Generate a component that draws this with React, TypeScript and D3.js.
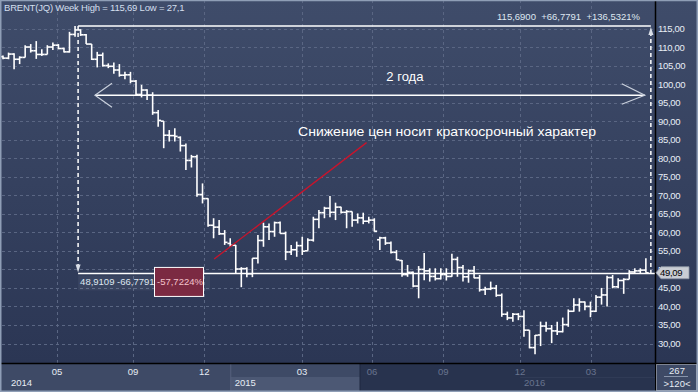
import React from "react";
import * as d3 from "d3";

const W = 698;
const H = 392;

// Weekly OHLC, BRENT(JQ)
const opens = [107.4,107.0,108.1,106.7,107.2,110.0,109.0,108.0,108.0,110.0,110.5,109.6,108.7,113.4,114.6,113.3,110.8,106.7,107.8,105.0,104.8,103.8,102.4,102.5,100.8,97.2,98.4,97.0,92.3,90.0,86.2,86.1,85.6,83.4,79.4,80.4,70.2,69.1,61.9,61.4,59.6,57.0,56.5,50.1,50.2,48.8,53.0,57.8,61.5,60.2,62.6,59.7,54.7,55.3,56.4,55.0,57.9,63.5,65.3,66.5,65.4,66.8,65.4,65.6,63.3,63.9,63.0,63.3,58.0,58.5,57.1,54.6,52.4,48.6,49.2,45.5,50.0,49.6,48.1,47.5,48.6,48.1,52.7,50.5,48.0,49.6,47.7,44.5,44.7,44.9,43.0,37.9,36.9,37.9,37.3,33.6,28.9,32.3,34.7,34.0,33.4,33.2,35.1,38.7,40.4,41.2,40.0,38.7,42.5,43.1,47.8,45.3,47.0,47.3,49.3,49.6,49.8];
const highs = [107.7,108.5,108.3,107.5,110.5,110.8,111.6,109.4,110.5,111.2,110.8,109.8,114.1,115.69,114.8,113.5,110.8,108.7,108.5,105.6,105.8,105.4,103.3,103.3,101.1,99.8,98.6,97.8,93.0,90.0,87.6,88.1,85.9,84.0,80.9,80.9,73.2,69.2,63.8,63.3,60.6,58.4,56.6,50.6,50.6,53.0,59.3,62.6,62.4,62.9,62.9,60.2,56.6,57.5,58.8,58.4,64.2,66.0,66.9,69.8,68.0,66.9,66.0,65.6,65.1,65.3,64.2,63.8,58.8,58.8,57.5,55.2,52.5,51.2,49.4,50.9,54.4,50.3,50.3,50.3,50.3,54.2,53.4,51.2,50.0,50.9,48.5,45.3,46.7,45.8,43.5,38.6,38.2,38.2,39.0,33.6,32.3,35.9,35.9,35.0,35.9,37.0,39.2,42.2,42.2,41.3,41.3,43.1,45.0,48.3,48.5,47.6,47.6,49.8,50.3,50.3,53.0];
const lows = [106.7,106.7,104.0,105.4,107.2,108.5,106.8,107.6,108.0,109.2,109.4,108.5,108.5,112.8,113.0,110.8,106.5,104.5,104.7,104.3,102.8,102.0,101.3,100.2,96.8,96.4,95.7,91.7,88.5,82.7,84.5,84.5,81.8,76.8,77.5,69.6,67.8,61.5,58.4,59.3,56.6,56.1,49.0,45.2,47.9,47.9,51.6,56.1,57.9,58.8,59.7,52.5,53.9,53.4,53.9,55.0,57.5,61.1,63.8,64.1,63.3,65.1,61.1,61.5,62.4,62.2,62.4,60.2,55.2,56.6,54.3,52.5,48.0,48.0,45.2,42.2,47.1,46.7,47.0,47.3,47.0,48.0,48.0,46.7,46.4,47.6,44.0,43.1,44.4,42.6,37.2,36.3,35.9,36.3,31.8,28.7,27.1,29.3,33.2,30.1,32.3,33.0,34.5,38.6,38.6,39.0,37.1,38.5,40.5,40.0,44.9,44.9,43.4,47.3,48.8,48.9,49.1];
const closes = [107.0,108.1,106.7,107.2,110.0,109.0,108.0,108.0,110.0,110.5,109.6,108.7,113.4,114.6,113.3,110.8,106.7,107.8,105.0,104.8,103.8,102.4,102.5,100.8,97.2,98.4,97.0,92.3,90.2,86.2,86.1,85.9,83.4,79.4,80.4,70.2,69.1,61.9,61.4,59.6,57.3,56.5,50.1,50.2,48.8,53.0,57.8,61.5,60.2,62.6,59.7,54.7,55.3,56.4,54.9,57.9,63.5,65.3,66.5,65.4,66.8,65.4,65.6,63.3,63.9,63.0,63.3,60.3,58.5,57.1,54.6,52.6,48.6,49.2,45.5,50.0,49.6,48.1,47.5,48.6,48.1,52.7,50.5,48.0,49.6,47.7,44.5,44.7,44.9,43.0,37.9,36.9,37.9,37.3,33.6,28.9,32.2,34.7,34.0,33.4,33.2,35.1,38.7,40.4,41.2,40.0,38.7,42.5,43.1,47.8,45.3,47.0,47.3,49.3,49.6,49.8,49.09];

const priceTicks = [30,35,40,45,50,55,60,65,70,75,80,85,90,95,100,105,110,115];
const monthLabels = ["05","09","12","03","06","09","12","03"];
const monthIdx = [9.75,23.45,36.3,53.95,66.6,79.45,93.3,106.1];
const yearLabels = ["2015","2016"];
const yearIdx = [41.1,93.3];

// measurement annotation
const measureStartIdx = 13.55;
const measureEndIdx = 116.9;
const measureHigh = 115.69;
const measureLow = 48.9109;
const measureTopText = "115,6900  +66,7791  +136,5321%";
const measureLowText = "48,9109 -66,7791";
const measurePct = "-57,7224%";
const lastPrice = 49.09;

// arrow "2 года"
const spanArrow = { from: 16.6, to: 115.8, price: 97.0, label: "2 года" };
// red trend line
const trend = { i0: 38.1, p0: 52.8, i1: 65.6, p1: 84.2, label: "Снижение цен носит краткосрочный характер" };

const title = "BRENT(JQ) Week High = 115,69 Low = 27,1";

const PLOT_R = 655;
const PLOT_B = 363;

const fmt = (v: number) => v.toFixed(2).replace(".", ",");

export default function App() {
  const n = closes.length;
  const x = d3.scaleLinear().domain([0, n - 1]).range([3, 3 + (n - 1) * 5.542]);
  const y = d3.scaleLinear().domain([30, 115]).range([343.5, 28.5]);
  const font = "'Liberation Sans', Arial, sans-serif";

  const xs = x(measureStartIdx);
  const xe = x(measureEndIdx);
  const yHi = y(measureHigh);
  const yLo = y(measureLow);

  const ax0 = x(spanArrow.from);
  const ax1 = x(spanArrow.to);
  const ay = y(spanArrow.price);

  return (
    <svg width={W} height={H} style={{ position: "absolute", left: 0, top: 0, display: "block" }} fontFamily={font}>
      <defs>
        <linearGradient id="bg" x1="0" y1="0" x2="0" y2="1">
          <stop offset="0" stopColor="#3f4c6a" />
          <stop offset="1" stopColor="#2b3654" />
        </linearGradient>
        <clipPath id="plot">
          <rect x={0} y={0} width={PLOT_R} height={PLOT_B} />
        </clipPath>
      </defs>
      <rect x={0} y={0} width={W} height={PLOT_B} fill="url(#bg)" />

      {/* grid */}
      <g stroke="#5a6683" strokeWidth={1} strokeDasharray="3,3" shapeRendering="crispEdges">
        {priceTicks.map((p) => (
          <line key={"h" + p} x1={2} x2={PLOT_R} y1={Math.round(y(p)) + 0.5} y2={Math.round(y(p)) + 0.5} />
        ))}
        {monthIdx.map((m, k) => (
          <line key={"v" + k} x1={Math.round(x(m)) + 0.5} x2={Math.round(x(m)) + 0.5} y1={0} y2={PLOT_B} />
        ))}
      </g>

      {/* OHLC bars */}
      <g clipPath="url(#plot)" stroke="#ffffff" strokeWidth={1.6}>
        {closes.map((c, i) => {
          const cx = x(i);
          return (
            <g key={i}>
              <line x1={cx} x2={cx} y1={y(highs[i])} y2={y(lows[i])} />
              <line x1={cx - 2.8} x2={cx} y1={y(opens[i])} y2={y(opens[i])} />
              <line x1={cx} x2={cx + 2.8} y1={y(c)} y2={y(c)} />
            </g>
          );
        })}
      </g>

      {/* measurement annotation */}
      <g>
        <line x1={xs} x2={xe} y1={yHi} y2={yHi} stroke="#ffffff" strokeWidth={1.5} />
        <line x1={xs} x2={PLOT_R} y1={yLo} y2={yLo} stroke="#ffffff" strokeWidth={1.5} />
        <line x1={xs} x2={xs} y1={yHi} y2={yLo - 6} stroke="#ffffff" strokeWidth={1.5} strokeDasharray="4,3" />
        <line x1={xe} x2={xe} y1={yHi + 6} y2={yLo} stroke="#ffffff" strokeWidth={1.5} strokeDasharray="4,3" />
        <polygon points={`${xs - 2.5},${yLo - 9} ${xs + 2.5},${yLo - 9} ${xs},${yLo - 1}`} fill="#d9dee7" />
        <polygon points={`${xe - 2.5},${yHi + 9} ${xe + 2.5},${yHi + 9} ${xe},${yHi + 1}`} fill="#d9dee7" />
        <text x={640} y={20} fontSize={9.5} fill="#dfe7f1" textAnchor="end" style={{ whiteSpace: "pre" }}>
          {measureTopText}
        </text>
        <rect x={xs} y={yLo + 2} width={132} height={15} fill="#ffffff" opacity={0.05} />
        <text x={xs + 2} y={yLo + 12} fontSize={9.5} fill="#dfe7f1">{measureLowText}</text>
        <rect x={154.5} y={yLo - 6} width={49} height={29} fill="#7b2a42" stroke="#ffffff" strokeWidth={1} />
        <text x={157} y={yLo + 12} fontSize={9.5} fill="#f3c3cc">{measurePct}</text>
      </g>

      {/* 2 years arrow */}
      <g>
        <line x1={ax0} x2={ax1} y1={ay} y2={ay} stroke="#ffffff" strokeWidth={1.5} />
        <polyline points={`${ax0 + 17},${ay - 12} ${ax0},${ay} ${ax0 + 17},${ay + 12}`} fill="none" stroke="#c9d0dc" strokeWidth={1.2} />
        <polyline points={`${ax1 - 23},${ay - 11.5} ${ax1},${ay} ${ax1 - 23},${ay + 9}`} fill="none" stroke="#c9d0dc" strokeWidth={1.2} />
        <text x={(ax0 + ax1) / 2 + 35} y={81} fontSize={13} fill="#ffffff" textAnchor="middle">{spanArrow.label}</text>
      </g>

      {/* trend line + comment */}
      <line x1={x(trend.i0)} y1={y(trend.p0)} x2={x(trend.i1)} y2={y(trend.p1)} stroke="#c8142c" strokeWidth={1.3} />
      <text x={298} y={136} fontSize={13} fill="#ffffff" textLength={298} lengthAdjust="spacingAndGlyphs">{trend.label}</text>

      {/* title */}
      <text x={4} y={11} fontSize={9.5} fill="#d3dfee" letterSpacing={-0.2}>{title}</text>

      {/* right axis */}
      <line x1={PLOT_R + 0.5} x2={PLOT_R + 0.5} y1={0} y2={H} stroke="#000000" strokeWidth={1.5} />
      {priceTicks.map((p) => (
        <text key={"t" + p} x={658} y={y(p) + 3.5} fontSize={9.5} fill="#e8eef6" letterSpacing={-0.3}>{fmt(p)}</text>
      ))}

      {/* last price label */}
      <polygon
        points={`${PLOT_R + 1},${y(lastPrice)} ${PLOT_R + 6},${y(lastPrice) - 6} ${689},${y(lastPrice) - 6} ${689},${y(lastPrice) + 6} ${PLOT_R + 6},${y(lastPrice) + 6}`}
        fill="#c9cdd4"
        stroke="#8e96a4"
        strokeWidth={0.8}
      />
      <text x={660} y={y(lastPrice) + 3.5} fontSize={9.5} fill="#000000" letterSpacing={-0.3}>{fmt(lastPrice)}</text>

      {/* bottom axis */}
      <rect x={0} y={PLOT_B} width={PLOT_R} height={H - PLOT_B} fill="#3e4a66" />
      <rect x={x(yearIdx[0])} y={377} width={360 - x(yearIdx[0])} height={H - 377} fill="#4c5874" />
      <rect x={360} y={PLOT_B} width={PLOT_R - 360} height={H - PLOT_B} fill="#28334e" />
      <line x1={x(yearIdx[0])} x2={x(yearIdx[0])} y1={PLOT_B} y2={H} stroke="#56627e" strokeWidth={1} />
      <line x1={360} x2={360} y1={PLOT_B} y2={H} stroke="#1e2840" strokeWidth={1} />
      <line x1={x(yearIdx[1])} x2={PLOT_R} y1={377.5} y2={377.5} stroke="#303b56" strokeWidth={1} />
      <line x1={0} x2={W} y1={PLOT_B + 0.5} y2={PLOT_B + 0.5} stroke="#000000" strokeWidth={1.5} />
      {monthLabels.map((m, k) => (
        <text
          key={"m" + k}
          x={x(monthIdx[k])}
          y={375}
          fontSize={9.5}
          textAnchor="middle"
          fill={x(monthIdx[k]) > 360 ? "#68748f" : "#e6ecf4"}
        >
          {m}
        </text>
      ))}
      <text x={11} y={386} fontSize={9.5} fill="#e6ecf4">2014</text>
      {yearLabels.map((yl, k) => (
        <text key={"y" + k} x={x(yearIdx[k]) + 4} y={386} fontSize={9.5} fill={x(yearIdx[k]) > 360 ? "#68748f" : "#e6ecf4"}>
          {yl}
        </text>
      ))}

      {/* bottom-right box */}
      <rect x={PLOT_R + 1.5} y={PLOT_B + 1.5} width={W - PLOT_R - 3} height={H - PLOT_B - 3} fill="#3e4a66" />
      <text x={677} y={373.5} fontSize={9.5} fill="#e6ecf4" textAnchor="middle">267</text>
      <line x1={664} x2={688} y1={376.5} y2={376.5} stroke="#8894aa" strokeWidth={1} />
      <text x={677} y={386.5} fontSize={9.5} fill="#e6ecf4" textAnchor="middle">{">120<"}</text>

      {/* frame */}
      <rect x={0.75} y={0.5} width={W - 1.5} height={H - 1.25} fill="none" stroke="#8f9eb6" strokeWidth={1.5} />
    </svg>
  );
}
